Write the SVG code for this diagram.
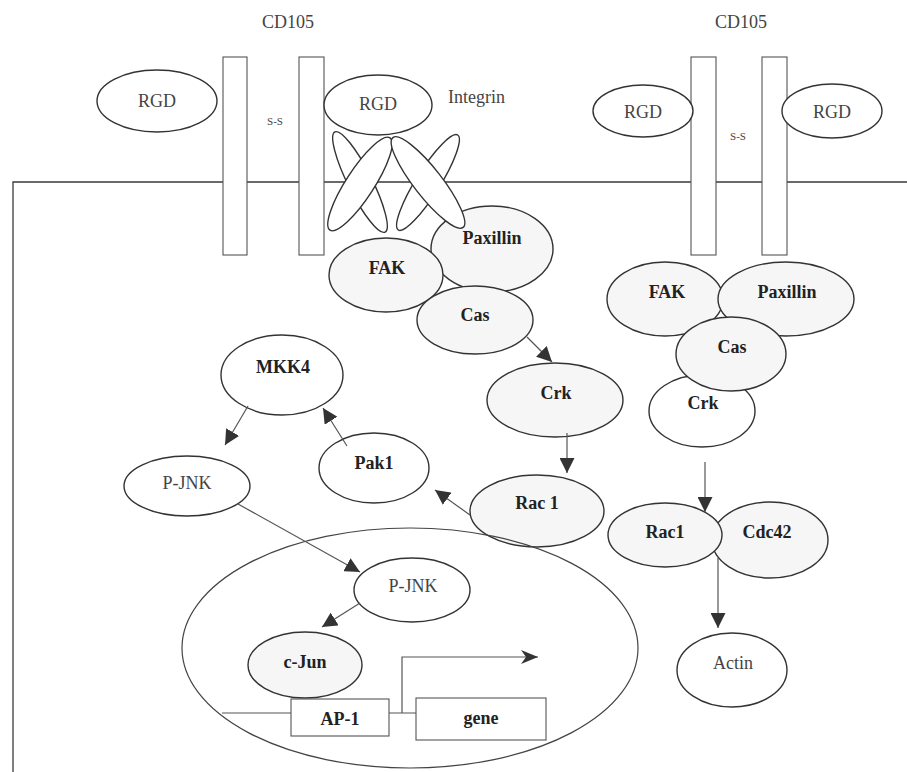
<svg xmlns="http://www.w3.org/2000/svg" width="907" height="772" viewBox="0 0 907 772">
<style>
.bg{fill:#ffffff}
.ln{stroke:#3a3a3a;stroke-width:1.3;fill:none}
.rect{fill:#ffffff;stroke:#555;stroke-width:1.1}
.ow{fill:#ffffff;stroke:#333;stroke-width:1.4}
.og{fill:#f6f6f6;stroke:#333;stroke-width:1.4}
.conn{stroke:#555;stroke-width:1.2;fill:none}
text{font-family:'Liberation Serif','Times New Roman','DejaVu Serif',serif}
.tb{font-size:18px;font-weight:bold;fill:#222;text-anchor:middle}
.tr{font-size:18px;fill:#444;text-anchor:middle}
.ts{font-size:11px;fill:#444;text-anchor:middle}
</style>
<defs>
<marker id="ah" markerUnits="userSpaceOnUse" markerWidth="16" markerHeight="15" refX="15" refY="7.5" orient="auto">
<path d="M0,0 L15,7.5 L0,15 z" fill="#333"/>
</marker>
<marker id="ah2" markerUnits="userSpaceOnUse" markerWidth="18" markerHeight="14" refX="17" refY="7" orient="auto">
<path d="M0,0 L17,7 L0,14 L5,7 z" fill="#333"/>
</marker>
</defs>
<rect class="bg" x="0" y="0" width="907" height="772"/>

<g id="membrane">
<path class="ln" d="M13,772 L13,182 L907,182"/>
</g>

<g id="cd105-left" font-family="Liberation Serif, serif">
<text class="tr" x="288" y="28">CD105</text>
<rect class="rect" x="223" y="57" width="24" height="198"/>
<rect class="rect" x="299" y="57" width="25" height="198"/>
<text class="ts" x="275" y="125">S-S</text>
</g>

<g id="cd105-right">
<text class="tr" x="741" y="28">CD105</text>
<rect class="rect" x="691" y="57" width="25" height="198"/>
<rect class="rect" x="762" y="57" width="25" height="198"/>
<text class="ts" x="738" y="140">S-S</text>
</g>

<g id="rgd-left">
<ellipse class="ow" cx="157" cy="101" rx="60" ry="31"/>
<text class="tr" x="157" y="107">RGD</text>
</g>
<g id="rgd-right1">
<ellipse class="ow" cx="643" cy="111" rx="50" ry="26"/>
<text class="tr" x="643" y="118">RGD</text>
</g>
<g id="rgd-right2">
<ellipse class="ow" cx="832" cy="111" rx="50" ry="27"/>
<text class="tr" x="832" y="118">RGD</text>
</g>

<g id="paxillin-left">
<ellipse class="og" cx="492" cy="249" rx="61" ry="43"/>
<text class="tb" x="492" y="244">Paxillin</text>
</g>

<g id="integrin">
<ellipse class="ow" cx="360" cy="182" rx="56" ry="12" transform="rotate(63.4 360 182)"/>
<ellipse class="ow" cx="360" cy="184" rx="55" ry="14" transform="rotate(123 360 184)"/>
<ellipse class="ow" cx="428" cy="182.5" rx="56" ry="12" transform="rotate(122 428 182.5)"/>
<ellipse class="ow" cx="428" cy="182.5" rx="57" ry="14" transform="rotate(52 428 182.5)"/>
<text class="tr" x="448" y="103" style="text-anchor:start">Integrin</text>
</g>

<g id="rgd-mid">
<ellipse class="ow" cx="378" cy="105" rx="54" ry="30"/>
<text class="tr" x="378" y="110">RGD</text>
</g>

<g id="fak-left">
<ellipse class="og" cx="386" cy="275" rx="57" ry="37"/>
<text class="tb" x="387" y="274">FAK</text>
</g>
<g id="cas-left">
<ellipse class="og" cx="475" cy="320" rx="58" ry="34"/>
<text class="tb" x="475" y="321">Cas</text>
</g>

<g id="fak-right">
<ellipse class="og" cx="665" cy="299" rx="58" ry="37"/>
<text class="tb" x="667" y="298">FAK</text>
</g>
<g id="paxillin-right">
<ellipse class="og" cx="786" cy="299" rx="68" ry="37"/>
<text class="tb" x="787" y="298">Paxillin</text>
</g>
<g id="crk-right">
<ellipse class="ow" cx="702" cy="411" rx="53" ry="36"/>
<text class="tb" x="703" y="409">Crk</text>
</g>
<g id="cas-right">
<ellipse class="og" cx="731" cy="354" rx="55" ry="37"/>
<text class="tb" x="732" y="353">Cas</text>
</g>

<g id="mkk4">
<ellipse class="ow" cx="282" cy="375" rx="61" ry="40"/>
<text class="tb" x="283" y="373">MKK4</text>
</g>
<g id="pak1">
<ellipse class="ow" cx="374" cy="468" rx="55" ry="35"/>
<text class="tb" x="374" y="469">Pak1</text>
</g>
<g id="pjnk-outer">
<ellipse class="ow" cx="187" cy="486" rx="63" ry="30"/>
<text class="tr" x="187" y="489">P-JNK</text>
</g>
<g id="crk-left">
<ellipse class="og" cx="555" cy="400" rx="68" ry="37"/>
<text class="tb" x="556" y="399">Crk</text>
</g>
<g id="rac1-left">
<ellipse class="og" cx="537" cy="511" rx="67" ry="36"/>
<text class="tb" x="537" y="509">Rac 1</text>
</g>

<g id="cdc42">
<ellipse class="og" cx="770" cy="540" rx="58" ry="38"/>
<text class="tb" x="767" y="538">Cdc42</text>
</g>
<g id="rac1-right">
<ellipse class="og" cx="665" cy="535" rx="57" ry="32"/>
<text class="tb" x="665" y="538">Rac1</text>
</g>
<g id="actin">
<ellipse class="ow" cx="732" cy="670" rx="55" ry="37"/>
<text class="tr" x="733" y="669">Actin</text>
</g>

<g id="nucleus">
<ellipse cx="410" cy="648" rx="228" ry="120" fill="none" stroke="#444" stroke-width="1.2"/>
</g>
<g id="pjnk-inner">
<ellipse class="ow" cx="412" cy="590" rx="58" ry="32"/>
<text class="tr" x="413" y="592">P-JNK</text>
</g>
<g id="cjun">
<ellipse class="og" cx="305" cy="665" rx="57" ry="33"/>
<text class="tb" x="305" y="668">c-Jun</text>
</g>
<g id="dna">
<path class="conn" d="M222,713 L291,713 M389,713 L416,713"/>
</g>
<g id="ap1">
<rect class="rect" x="291" y="699" width="98" height="37"/>
<text class="tb" x="340" y="725">AP-1</text>
</g>
<g id="gene">
<rect class="rect" x="416" y="698" width="130" height="42"/>
<text class="tb" x="481" y="724">gene</text>
</g>

<g id="connectors">
<line class="conn" x1="527" y1="337" x2="552" y2="362" marker-end="url(#ah)"/>
<line class="conn" x1="567" y1="433" x2="567" y2="473" marker-end="url(#ah)"/>
<line class="conn" x1="470" y1="515" x2="435" y2="490" marker-end="url(#ah)"/>
<line class="conn" x1="347" y1="446" x2="323" y2="408" marker-end="url(#ah)"/>
<line class="conn" x1="248" y1="406" x2="225" y2="445" marker-end="url(#ah)"/>
<line class="conn" x1="238" y1="504" x2="360" y2="572" marker-end="url(#ah)"/>
<line class="conn" x1="360" y1="603" x2="322" y2="627" marker-end="url(#ah)"/>
<line class="conn" x1="705" y1="462" x2="705" y2="512" marker-end="url(#ah)"/>
<line class="conn" x1="718" y1="558" x2="718" y2="628" marker-end="url(#ah)"/>
<polyline class="conn" points="402,713 402,657 538,657" marker-end="url(#ah2)"/>
</g>
</svg>
